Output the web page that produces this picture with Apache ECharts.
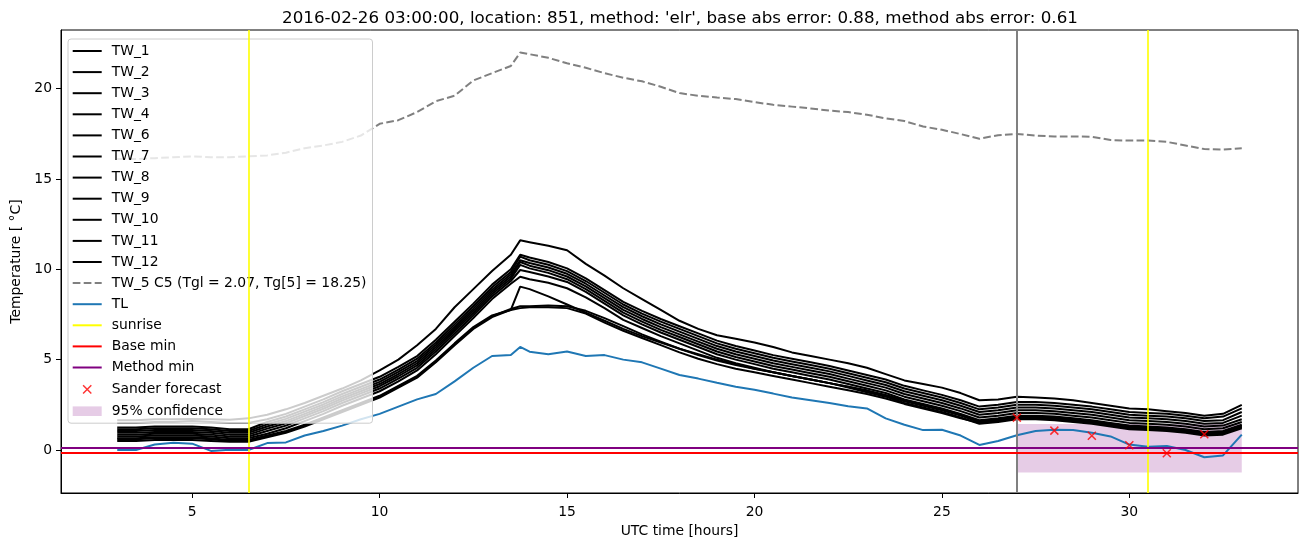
<!DOCTYPE html>
<html><head><meta charset="utf-8">
<script src="https://cdn.jsdelivr.net/npm/echarts@6/dist/echarts.min.js"></script>
<style>html,body{margin:0;padding:0;background:#fff}#c{width:1310px;height:547px}</style>
</head><body><div id="c"></div>
<script>
const hours = [3,3.5,4,4.5,5,5.5,6,6.5,7,7.5,8,8.5,9,9.5,10,10.5,11,11.5,12,12.5,13,13.5,13.75,14,14.5,15,15.5,16,16.5,17,17.5,18,18.5,19,19.5,20,20.5,21,21.5,22,22.5,23,23.5,24,24.5,25,25.5,26,26.5,27,27.5,28,28.5,29,29.5,30,30.5,31,31.5,32,32.5,33];

const TW_1 = [1.65,1.65,1.7,1.7,1.72,1.7,1.68,1.75, 1.95,2.25,2.6,3.0,3.4,3.85,4.4,5.0,5.8,6.7,7.9,8.9,9.9,10.8, 11.6, 11.5,11.3,11.05,10.3,9.65,8.95,8.35,7.75,7.15,6.7,6.35,6.15,5.95,5.7,5.4,5.2,5.0,4.8,4.55,4.2,3.85,3.65,3.45,3.15,2.75,2.8,2.95,2.9,2.85,2.75,2.6,2.45,2.3,2.25,2.15,2.05,1.9,2.0,2.5];
const TW_2 = [1.5,1.5,1.55,1.55,1.6,1.55,1.5,1.5, 1.7,2.0,2.4,2.8,3.25,3.65,4.05,4.6,5.2,6.1,7.1,8.1,9.15,10.0, 10.8, 10.65,10.4,10.05,9.5,8.85,8.2,7.7,7.25,6.85,6.45,6.05,5.75,5.5,5.25,5.05,4.85,4.65,4.4,4.15,3.9,3.55,3.3,3.05,2.75,2.4,2.5,2.65,2.65,2.6,2.5,2.4,2.25,2.1,2.05,2.0,1.9,1.75,1.85,2.3];
const TW_3 = [1.25,1.25,1.3,1.3,1.3,1.25,1.15,1.15, 1.55,1.85,2.25,2.65,3.1,3.5,3.9,4.45,5.05,5.95,6.95,7.95,9.0,9.85, 10.7, 10.5,10.25,9.9,9.35,8.7,8.05,7.55,7.1,6.7,6.3,5.9,5.6,5.35,5.1,4.9,4.7,4.5,4.25,4.0,3.75,3.4,3.15,2.9,2.6,2.25,2.35,2.5,2.5,2.45,2.35,2.25,2.1,1.95,1.9,1.85,1.75,1.6,1.65,2.1];
const TW_4 = [1.15,1.15,1.2,1.2,1.2,1.15,1.05,1.05, 1.42,1.72,2.12,2.52,2.97,3.37,3.77,4.32,4.92,5.82,6.82,7.82,8.87,9.72, 10.5, 10.35,10.1,9.75,9.2,8.55,7.9,7.4,6.95,6.55,6.15,5.75,5.45,5.2,4.95,4.75,4.55,4.35,4.1,3.85,3.6,3.25,3.0,2.75,2.45,2.1,2.2,2.35,2.35,2.3,2.2,2.1,1.95,1.8,1.75,1.7,1.6,1.45,1.5,1.9];
const TW_6 = [1.05,1.05,1.1,1.1,1.1,1.05,0.95,0.95, 1.3,1.6,2.0,2.4,2.85,3.25,3.65,4.2,4.8,5.7,6.7,7.7,8.75,9.6, 10.4, 10.2,9.95,9.6,9.05,8.4,7.75,7.25,6.8,6.4,6.0,5.6,5.3,5.05,4.8,4.6,4.4,4.2,3.95,3.7,3.45,3.1,2.85,2.6,2.3,1.95,2.05,2.2,2.2,2.15,2.05,1.95,1.8,1.65,1.6,1.55,1.45,1.3,1.35,1.7];
const TW_7 = [0.95,0.95,1.0,1.0,1.0,0.95,0.85,0.85, 1.18,1.48,1.88,2.28,2.73,3.13,3.53,4.08,4.68,5.58,6.58,7.58,8.63,9.48, 10.24, 10.05,9.8,9.45,8.9,8.25,7.6,7.1,6.65,6.25,5.85,5.45,5.15,4.9,4.65,4.45,4.25,4.05,3.8,3.55,3.3,2.95,2.7,2.45,2.15,1.8,1.9,2.05,2.05,2.0,1.9,1.8,1.65,1.5,1.45,1.4,1.3,1.15,1.2,1.55];
const TW_8 = [0.85,0.85,0.9,0.9,0.9,0.85,0.75,0.75, 1.05,1.35,1.75,2.15,2.6,3.0,3.4,3.95,4.55,5.45,6.45,7.45,8.5,9.35, 9.96, 9.85,9.6,9.3,8.75,8.1,7.45,6.95,6.5,6.1,5.7,5.3,5.0,4.75,4.5,4.3,4.1,3.9,3.65,3.4,3.15,2.8,2.55,2.3,2.0,1.65,1.75,1.9,1.9,1.85,1.75,1.65,1.5,1.35,1.3,1.25,1.15,1.0,1.05,1.4];
const TW_9 = [0.75,0.75,0.8,0.8,0.8,0.75,0.65,0.65, 0.9,1.2,1.6,2.0,2.45,2.85,3.25,3.8,4.4,5.3,6.3,7.3,8.35,9.2, 9.59, 9.45,9.25,8.95,8.45,7.85,7.2,6.75,6.3,5.9,5.5,5.1,4.8,4.55,4.3,4.1,3.9,3.7,3.45,3.2,2.95,2.6,2.35,2.1,1.8,1.45,1.55,1.7,1.7,1.65,1.55,1.45,1.3,1.15,1.1,1.05,0.95,0.8,0.85,1.2];
const TW_10 = [0.65,0.65,0.7,0.7,0.7,0.65,0.55,0.55, 0.8,1.05,1.4,1.8,2.2,2.6,3.0,3.55,4.1,4.95,5.9,6.8,7.45,7.75, 9.04, 8.9,8.5,8.05,7.6,7.15,6.7,6.3,5.95,5.6,5.3,5.0,4.75,4.5,4.3,4.1,3.9,3.7,3.5,3.25,3.0,2.7,2.45,2.2,1.9,1.55,1.65,1.8,1.8,1.75,1.65,1.55,1.4,1.25,1.2,1.15,1.05,0.9,0.95,1.3];
const TW_11 = [0.6,0.6,0.65,0.65,0.65,0.6,0.5,0.5, 0.75,1.0,1.35,1.75,2.15,2.55,2.95,3.5,4.05,4.9,5.85,6.75,7.4,7.8, 7.95, 7.95,8.0,7.95,7.7,7.3,6.85,6.4,6.0,5.6,5.25,4.95,4.7,4.5,4.3,4.1,3.9,3.7,3.5,3.3,3.05,2.75,2.5,2.25,1.95,1.6,1.7,1.85,1.85,1.8,1.7,1.6,1.45,1.3,1.25,1.2,1.1,0.95,1.0,1.35];
const TW_12 = [0.5,0.5,0.55,0.55,0.55,0.5,0.45,0.45, 0.7,0.95,1.3,1.7,2.1,2.5,2.9,3.45,4.0,4.85,5.8,6.7,7.35,7.75, 7.85, 7.9,7.9,7.85,7.55,7.05,6.6,6.2,5.8,5.4,5.05,4.75,4.5,4.3,4.1,3.9,3.7,3.5,3.3,3.1,2.85,2.55,2.3,2.05,1.75,1.5,1.6,1.75,1.75,1.7,1.6,1.5,1.35,1.2,1.15,1.1,1.0,0.85,0.9,1.25];
const TW_5 = [16.1,16.1,16.15,16.2,16.25,16.2,16.2,16.25, 16.3,16.45,16.7,16.85,17.05,17.4,18.05,18.25,18.7,19.3,19.6,20.45,20.85,21.25, 21.99, 21.9,21.7,21.4,21.15,20.85,20.6,20.4,20.1,19.75,19.6,19.5,19.42,19.25,19.1,19.0,18.9,18.78,18.7,18.55,18.35,18.2,17.9,17.72,17.48,17.22,17.42,17.49,17.4,17.35,17.35,17.33,17.15,17.12,17.12,17.05,16.85,16.65,16.62,16.7];
const TL = [0.0,0.0,0.3,0.4,0.35,-0.05,0.02,0.0, 0.38,0.42,0.8,1.05,1.35,1.7,2.0,2.4,2.8,3.1,3.8,4.55,5.2,5.26, 5.7, 5.44,5.3,5.45,5.2,5.25,5.0,4.85,4.5,4.15,3.95,3.72,3.5,3.33,3.12,2.9,2.75,2.6,2.42,2.3,1.75,1.4,1.1,1.12,0.8,0.28,0.5,0.82,1.05,1.12,1.1,0.95,0.75,0.3,0.18,0.22,0.0,-0.4,-0.3,0.85];

const twNames = ['TW_1','TW_2','TW_3','TW_4','TW_6','TW_7','TW_8','TW_9','TW_10','TW_11','TW_12'];
const twValues = [TW_1,TW_2,TW_3,TW_4,TW_6,TW_7,TW_8,TW_9,TW_10,TW_11,TW_12];
const tw5Name = 'TW_5 C5 (Tgl = 2.07, Tg[5] = 18.25)';
const sunriseHours = [6.5, 30.5];
const forecastHour = 27;
const baseMin = -0.13;
const methodMin = 0.12;
const sanderHours = [27, 28, 29, 30, 31, 32];
const sanderValues = [1.79, 1.07, 0.79, 0.26, -0.18, 0.87];
const confHours = [27, 33];
const confBounds = [-1.25, 1.44];
const xTicks = [5, 10, 15, 20, 25, 30];
const yTicks = [0, 5, 10, 15, 20];
const titleText = "2016-02-26 03:00:00, location: 851, method: 'elr', base abs error: 0.88, method abs error: 0.61";

const FONT = 'DejaVu Sans';
const pair = arr => hours.map((h, i) => [h, arr[i]]);
const noMark = { symbol: ['none', 'none'], silent: true, label: { show: false }, animation: false };

const ICON_LINE = 'path://M0,0h29v2h-29Z';
const ICON_DASH = 'path://M0,0h7.7v2h-7.7Z M11,0h7.7v2h-7.7Z M22,0h7v2h-7Z';
const ICON_X = 'path://M-3.5,-3.5 M0,0L10,10M10,0L0,10 M13.5,13.5';
const ICON_RECT = 'path://M0,0h28v9.3h-28Z';

const series = [];
twNames.forEach((n, k) => {
  series.push({ name: n, type: 'line', data: pair(twValues[k]), symbol: 'none', color: '#000',
    lineStyle: { color: '#000', width: 2 }, z: 2 });
});
series.push({ name: tw5Name, type: 'line', data: pair(TW_5), symbol: 'none', color: '#808080',
  lineStyle: { color: '#808080', width: 2, type: [7.7, 3.3] } });
series.push({ name: 'TL', type: 'line', data: pair(TL), symbol: 'none', color: '#1f77b4',
  lineStyle: { color: '#1f77b4', width: 2 } });
series.push({ name: '95% confidence', type: 'line', data: [], symbol: 'none', color: 'rgba(128,0,128,0.2)',
  markArea: { silent: true, itemStyle: { color: 'rgba(128,0,128,0.2)' },
    data: [[{ xAxis: confHours[0], yAxis: confBounds[0] }, { xAxis: confHours[1], yAxis: confBounds[1] }]] } });
series.push({ name: 'forecast', type: 'line', data: [], symbol: 'none', color: '#808080',
  markLine: Object.assign({ lineStyle: { color: '#808080', width: 2, type: 'solid' }, data: [{ xAxis: forecastHour }] }, noMark) });
series.push({ name: 'sunrise', type: 'line', data: [], symbol: 'none', color: '#ffff00', lineStyle: { color: '#ffff00', width: 2 },
  markLine: Object.assign({ lineStyle: { color: '#ffff00', width: 1.6, type: 'solid' }, data: sunriseHours.map(h => ({ xAxis: h })) }, noMark) });
series.push({ name: 'Base min', type: 'line', data: [], symbol: 'none', color: '#ff0000', lineStyle: { color: '#ff0000', width: 2 },
  markLine: Object.assign({ lineStyle: { color: '#ff0000', width: 2, type: 'solid' }, data: [{ yAxis: baseMin }] }, noMark) });
series.push({ name: 'Method min', type: 'line', data: [], symbol: 'none', color: '#800080', lineStyle: { color: '#800080', width: 2 },
  markLine: Object.assign({ lineStyle: { color: '#800080', width: 2, type: 'solid' }, data: [{ yAxis: methodMin }] }, noMark) });
series.push({ name: 'Sander forecast', type: 'scatter', data: sanderHours.map((h, i) => [h, sanderValues[i]]),
  symbol: 'path://M0,0L10,10M10,0L0,10', symbolSize: 8, color: '#ff0000',
  itemStyle: { color: 'rgba(0,0,0,0)', borderColor: '#ff0000', borderWidth: 1.5 }, z: 5 });

const lineColors = { TL: '#1f77b4', sunrise: '#ffff00', 'Base min': '#ff0000', 'Method min': '#800080' };
const legendData = twNames.map(n => ({ name: n, icon: ICON_LINE, itemStyle: { color: '#000', borderWidth: 0 } }));
legendData.push({ name: tw5Name, icon: ICON_DASH, itemStyle: { color: '#808080', borderWidth: 0 } });
['TL', 'sunrise', 'Base min', 'Method min'].forEach(n =>
  legendData.push({ name: n, icon: ICON_LINE, itemStyle: { color: lineColors[n], borderWidth: 0 } }));
legendData.push({ name: 'Sander forecast', icon: ICON_X, itemStyle: { color: 'rgba(0,0,0,0)', borderColor: '#ff0000', borderWidth: 1.5 } });
legendData.push({ name: '95% confidence', icon: ICON_RECT, itemStyle: { color: 'rgba(128,0,128,0.2)', borderWidth: 0 } });

const chart = echarts.init(document.getElementById('c'), null, { renderer: 'canvas' });
chart.setOption({
  animation: false,
  backgroundColor: '#fff',
  textStyle: { fontFamily: FONT },
  title: { text: titleText, left: 680, top: 10, padding: 0, textAlign: 'center',
    textStyle: { fontFamily: FONT, fontSize: 16.7, fontWeight: 'normal', color: '#000' } },
  grid: { left: 61, right: 12, top: 30, bottom: 54, show: true, borderColor: '#000', borderWidth: 1, backgroundColor: 'transparent' },
  legend: {
    orient: 'vertical', left: 68, top: 39, padding: [5, 6, 5, 4.7],
    itemWidth: 29, itemHeight: 14, itemGap: 7.1, selectedMode: false,
    backgroundColor: 'rgba(255,255,255,0.8)', borderColor: '#cccccc', borderWidth: 1, borderRadius: 3,
    textStyle: { fontFamily: FONT, fontSize: 13.9, color: '#000', padding: [0, 0, 0, 5] },
    data: legendData
  },
  xAxis: {
    type: 'value', min: 1.5, max: 34.5,
    name: 'UTC time [hours]', nameLocation: 'middle', nameGap: 29,
    nameTextStyle: { fontFamily: FONT, fontSize: 13.9, color: '#000' },
    axisLine: { show: true, onZero: false, lineStyle: { color: '#000', width: 1 } },
    axisTick: { show: true, length: 5, lineStyle: { color: '#000', width: 1 }, customValues: xTicks },
    axisLabel: { fontFamily: FONT, fontSize: 13.9, color: '#000', margin: 12, customValues: xTicks },
    splitLine: { show: false }
  },
  yAxis: {
    type: 'value', min: -2.38, max: 23.24,
    name: 'Temperature [ °C]', nameLocation: 'middle', nameGap: 34,
    nameTextStyle: { fontFamily: FONT, fontSize: 13.9, color: '#000' },
    axisLine: { show: true, onZero: false, lineStyle: { color: '#000', width: 1 } },
    axisTick: { show: true, length: 5, lineStyle: { color: '#000', width: 1 }, customValues: yTicks },
    axisLabel: { fontFamily: FONT, fontSize: 13.9, color: '#000', margin: 9, customValues: yTicks },
    splitLine: { show: false }
  },
  series: series
});
</script></body></html>
